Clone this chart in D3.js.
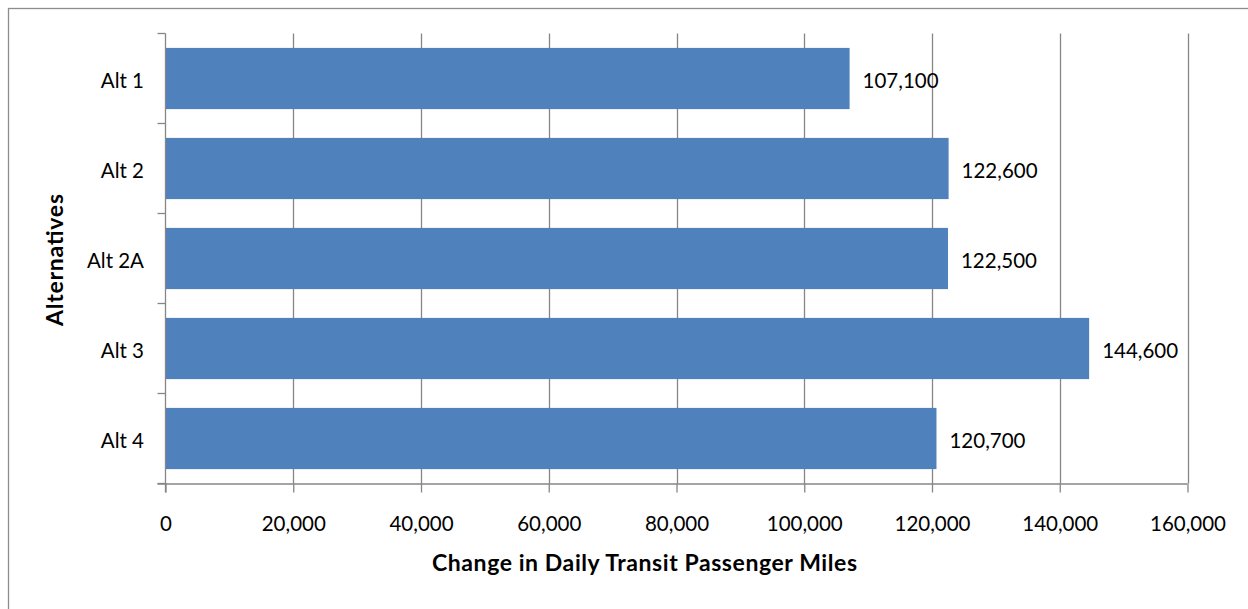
<!DOCTYPE html>
<html>
<head>
<meta charset="utf-8">
<script src="https://cdn.jsdelivr.net/npm/d3@7"></script>
<style>
  html, body { margin: 0; padding: 0; background: #fff; }
  svg { display: block; }
  text { font-family: Lato, "Open Sans", sans-serif; fill: #000; }
</style>
</head>
<body>
<svg id="chart" width="1248" height="609"></svg>
<script>
// Change in daily transit passenger miles by alternative
const categories = ["Alt 1", "Alt 2", "Alt 2A", "Alt 3", "Alt 4"];
const values = [107100, 122600, 122500, 144600, 120700];
const xTicks = [0, 20000, 40000, 60000, 80000, 100000, 120000, 140000, 160000];
const xTitle = "Change in Daily Transit Passenger Miles";
const yTitle = "Alternatives";

const svg = d3.select("#chart");
const W = 1248, H = 609;
const plot = { left: 165.5, right: 1187.5, top: 33.5, bottom: 483.5 };
const gridColor = "#868686";
const barColor = "#4F81BD";
const labelSize = 20.5;
const fmt = d3.format(",");

// chart frame (extends beyond right/bottom edges)
svg.append("rect")
  .attr("x", 8.5).attr("y", 8.5)
  .attr("width", W + 10).attr("height", H + 10)
  .attr("fill", "none").attr("stroke", "#8c8c8c").attr("stroke-width", 1.3);

const x = d3.scaleLinear().domain([0, 160000]).range([plot.left, plot.right]);
const y = d3.scaleBand().domain(categories).range([plot.top, plot.bottom])
  .paddingInner(0.32).paddingOuter(0.16);

// vertical gridlines
svg.append("g").selectAll("line")
  .data(xTicks.slice(1))
  .join("line")
  .attr("x1", d => Math.round(x(d)) + 0.5).attr("x2", d => Math.round(x(d)) + 0.5)
  .attr("y1", plot.top).attr("y2", plot.bottom)
  .attr("stroke", gridColor).attr("stroke-width", 1.3);

// bars
svg.append("g").selectAll("rect")
  .data(categories)
  .join("rect")
  .attr("x", x(0))
  .attr("y", d => y(d))
  .attr("width", (d, i) => x(values[i]) - x(0))
  .attr("height", y.bandwidth())
  .attr("fill", barColor);

// value labels
svg.append("g").selectAll("text")
  .data(categories)
  .join("text")
  .attr("x", (d, i) => x(values[i]) + 13)
  .attr("y", d => y(d) + y.bandwidth() / 2)
  .attr("dy", "0.45em")
  .attr("font-size", labelSize)
  .text((d, i) => fmt(values[i]));

// x axis
const xAxis = d3.axisBottom(x).tickValues(xTicks).tickFormat(fmt)
  .tickSize(9).tickSizeOuter(0);
const gx = svg.append("g").attr("transform", `translate(0,${plot.bottom})`).call(xAxis);
gx.select(".domain").attr("d", `M${plot.left - 8},0.5H${plot.right}`)
  .attr("stroke", gridColor).attr("stroke-width", 1.3);
gx.selectAll(".tick line").attr("stroke", gridColor).attr("stroke-width", 1.3);
gx.selectAll(".tick text")
  .attr("y", 47).attr("dy", null)
  .attr("font-size", labelSize).attr("font-family", "Lato, sans-serif").attr("fill", "#000");

// y axis: tick marks sit at band boundaries
const gy = svg.append("g");
gy.append("line")
  .attr("x1", plot.left).attr("x2", plot.left)
  .attr("y1", plot.top).attr("y2", plot.bottom + 9)
  .attr("stroke", gridColor).attr("stroke-width", 1.3);
const boundaries = d3.range(categories.length + 1).map(i => plot.top + i * y.step());
gy.selectAll("line.tick")
  .data(boundaries)
  .join("line").attr("class", "tick")
  .attr("x1", plot.left - 8).attr("x2", plot.left)
  .attr("y1", d => d).attr("y2", d => d)
  .attr("stroke", gridColor).attr("stroke-width", 1.3);
gy.selectAll("text")
  .data(categories)
  .join("text")
  .attr("x", 144)
  .attr("y", d => y(d) + y.bandwidth() / 2)
  .attr("dy", "0.45em")
  .attr("text-anchor", "end")
  .attr("font-size", labelSize)
  .text(d => d);

// axis titles
svg.append("text")
  .attr("x", 644.5).attr("y", 571)
  .attr("text-anchor", "middle")
  .attr("font-size", 23).attr("font-weight", "bold")
  .attr("textLength", 425).attr("lengthAdjust", "spacing")
  .text(xTitle);
svg.append("text")
  .attr("transform", "translate(63,260) rotate(-90)")
  .attr("text-anchor", "middle")
  .attr("font-size", 23).attr("font-weight", "bold")
  .attr("textLength", 132).attr("lengthAdjust", "spacing")
  .text(yTitle);
</script>
</body>
</html>
